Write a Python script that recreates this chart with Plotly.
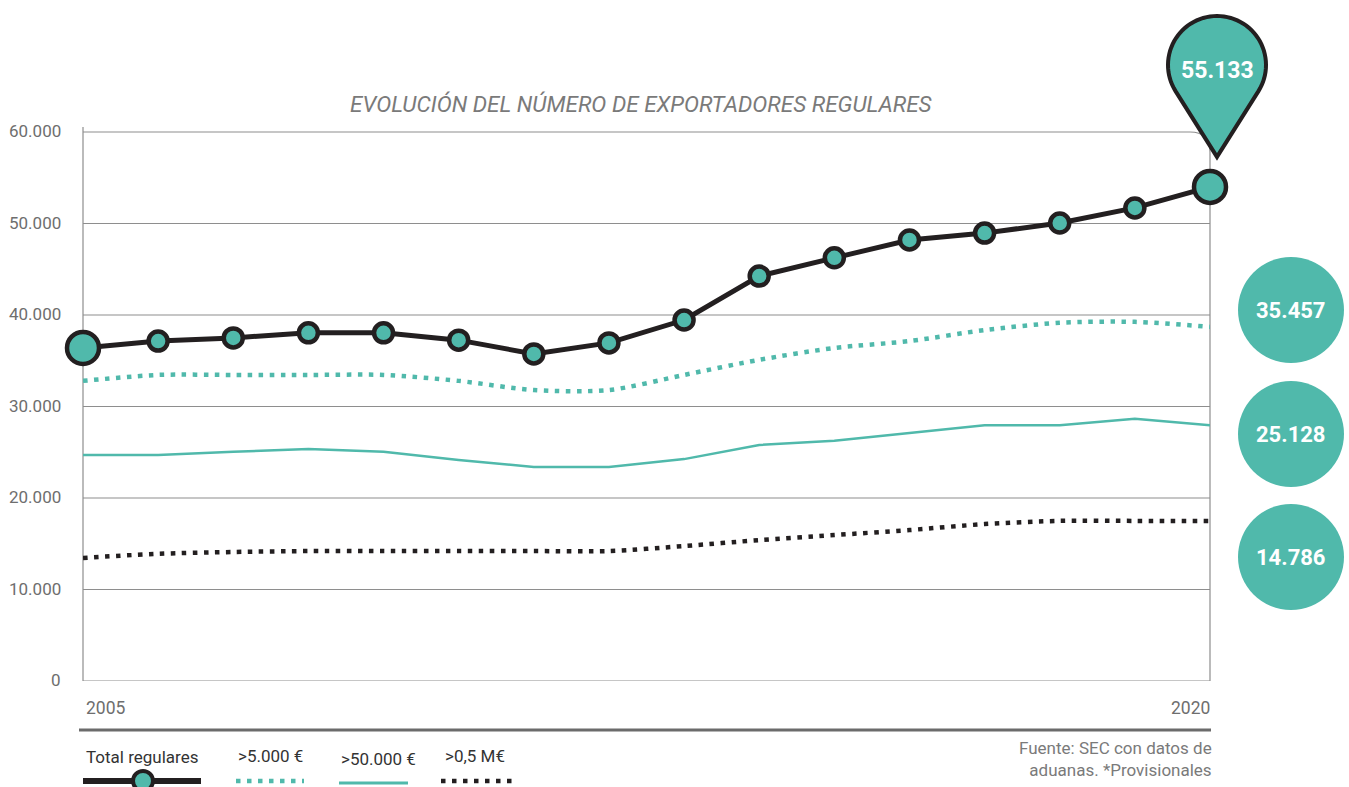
import math
import plotly.graph_objects as go

# ---------------- data ----------------
years = list(range(2005, 2021))
total_regulares = [36400, 37150, 37500, 38050, 38050, 37250, 35750, 36950,
                   39450, 44250, 46250, 48200, 48950, 50050, 51700, 54000]
mas_5000 = [32800, 33450, 33450, 33450, 33450, 32800, 31800, 31800,
            33450, 35100, 36400, 37150, 38350, 39150, 39250, 38700]
mas_50000 = [24700, 24700, 25050, 25350, 25050, 24150, 23400, 23400,
             24250, 25800, 26250, 27100, 27950, 27950, 28650, 27950]
mas_05M = [13450, 13900, 14100, 14200, 14200, 14200, 14200, 14200,
           14750, 15400, 15950, 16500, 17150, 17500, 17500, 17500]

y_ticks = [0, 10000, 20000, 30000, 40000, 50000, 60000]
y_tick_labels = ["0", "10.000", "20.000", "30.000", "40.000", "50.000", "60.000"]
x_tick_labels = ["2005", "2020"]
legend_labels = ["Total regulares", ">5.000 €", ">50.000 €", ">0,5 M€"]
pin_label = "55.133"
circle_labels = ["35.457", "25.128", "14.786"]
title_text = "EVOLUCIÓN DEL NÚMERO DE EXPORTADORES REGULARES"
source_text = "Fuente: SEC con datos de<br>aduanas. *Provisionales"

# ---------------- styling ----------------
W, H = 1349, 787
TEAL = "#50B9AB"
DARK = "#231F20"
GRID = "#8E8E8E"
FONT = "Roboto, 'Open Sans', sans-serif"
BIGFONT = "Roboto, 'DejaVu Sans Condensed', sans-serif"
DOTS = "4.5px,6.5px"

PL, PR, PT, PB = 83, 1210, 132, 681  # plot area in pixels


def X(px):
    return px / W


def Y(py):
    return 1 - py / H


def ypx(v):
    return PB - (v - y_ticks[0]) / (y_ticks[-1] - y_ticks[0]) * (PB - PT)


fig = go.Figure()

fig.add_trace(go.Scatter(x=years, y=mas_05M, mode="lines",
                         line=dict(color=DARK, width=4.5, dash=DOTS, shape="spline", smoothing=0.8),
                         hoverinfo="skip", cliponaxis=False))
fig.add_trace(go.Scatter(x=years, y=mas_50000, mode="lines",
                         line=dict(color=TEAL, width=2.5),
                         hoverinfo="skip", cliponaxis=False))
fig.add_trace(go.Scatter(x=years, y=mas_5000, mode="lines",
                         line=dict(color=TEAL, width=4.5, dash=DOTS, shape="spline", smoothing=0.8),
                         hoverinfo="skip", cliponaxis=False))
sizes = [32] + [19] * (len(years) - 2) + [32]
fig.add_trace(go.Scatter(x=years, y=total_regulares, mode="lines+markers",
                         line=dict(color=DARK, width=5),
                         marker=dict(size=sizes, color=TEAL, opacity=1, line=dict(color=DARK, width=4.5)),
                         hoverinfo="skip", cliponaxis=False))

shapes = []
annotations = []

# grid lines
for v in y_ticks[:-1]:
    shapes.append(dict(type="line", xref="x", yref="y", x0=years[0], x1=years[-1], y0=v, y1=v,
                       line=dict(color=GRID, width=1.2), layer="below"))
# frame: top line with rounded corner + right line
frame = (f"M {X(PL)},{Y(PT)} L {X(PR-20)},{Y(PT)} Q {X(PR)},{Y(PT)} {X(PR)},{Y(PT+20)} "
         f"L {X(PR)},{Y(PB)}")
shapes.append(dict(type="path", xref="paper", yref="paper", path=frame,
                   line=dict(color=GRID, width=1.2), layer="below"))
shapes.append(dict(type="line", xref="paper", yref="paper", x0=X(PL), x1=X(PL), y0=Y(127), y1=Y(PB),
                   line=dict(color=GRID, width=1.2), layer="below"))
# thick baseline below x labels
shapes.append(dict(type="line", xref="paper", yref="paper", x0=X(79), x1=X(1211), y0=Y(730), y1=Y(730),
                   line=dict(color="#6B6B6B", width=3)))

# y tick labels
for v, t in zip(y_ticks, y_tick_labels):
    annotations.append(dict(xref="paper", yref="paper", x=X(63), y=Y(ypx(v) - 1), text=t,
                            showarrow=False, xanchor="right", yanchor="middle",
                            font=dict(family=FONT, size=17, color="#6E6E6E")))
# x tick labels
annotations.append(dict(xref="paper", yref="paper", x=X(84), y=Y(708), text=x_tick_labels[0],
                        showarrow=False, xanchor="left", yanchor="middle",
                        font=dict(family=FONT, size=17.5, color="#6E6E6E")))
annotations.append(dict(xref="paper", yref="paper", x=X(1212), y=Y(708), text=x_tick_labels[1],
                        showarrow=False, xanchor="right", yanchor="middle",
                        font=dict(family=FONT, size=17.5, color="#6E6E6E")))

# title
annotations.append(dict(xref="paper", yref="paper", x=X(641), y=Y(104), text=title_text,
                        showarrow=False, xanchor="center", yanchor="middle",
                        font=dict(family=FONT, size=22.5, color="#7A7A7A", style="italic")))

# source
annotations.append(dict(xref="paper", yref="paper", x=X(1214), y=Y(759), text=source_text,
                        showarrow=False, xanchor="right", yanchor="middle", align="right",
                        font=dict(family=FONT, size=17, color="#7A7A7A")))

# pin above last point
tip_x = 1217
tip_y = ypx(total_regulares[-1]) - 30
cx, cy, r = tip_x, 65, 49
d = tip_y - cy
phi = math.acos(r / d)
pts = []
n = 60
for i in range(n + 1):
    th = phi + (2 * math.pi - 2 * phi) * i / n
    pts.append((cx + r * math.sin(th), cy + r * math.cos(th)))
path = f"M {X(tip_x)},{Y(tip_y)} " + " ".join(f"L {X(px)},{Y(py)}" for px, py in pts) + " Z"
shapes.append(dict(type="path", xref="paper", yref="paper", path=path,
                   fillcolor=TEAL, line=dict(color=DARK, width=4), layer="above"))
annotations.append(dict(xref="paper", yref="paper", x=X(cx), y=Y(cy + 6), text=f"<b>{pin_label}</b>",
                        showarrow=False, xanchor="center", yanchor="middle",
                        font=dict(family=BIGFONT, size=23, color="white")))

# circles at right
for cyp, lab in zip([310, 434, 557], circle_labels):
    shapes.append(dict(type="circle", xref="paper", yref="paper",
                       x0=X(1291 - 53), x1=X(1291 + 53), y0=Y(cyp + 53), y1=Y(cyp - 53),
                       fillcolor=TEAL, line=dict(width=0)))
    annotations.append(dict(xref="paper", yref="paper", x=X(1291), y=Y(cyp), text=f"<b>{lab}</b>",
                            showarrow=False, xanchor="center", yanchor="middle",
                            font=dict(family=BIGFONT, size=22, color="white")))

# legend
leg_font = dict(family=FONT, size=17, color="#333333")
leg_text_x = [84, 236, 339, 443]
leg_text_y = [757, 756, 759, 756]
for lx, ly, lab in zip(leg_text_x, leg_text_y, legend_labels):
    annotations.append(dict(xref="paper", yref="paper", x=X(lx), y=Y(ly), text=lab,
                            showarrow=False, xanchor="left", yanchor="middle", font=leg_font))
shapes.append(dict(type="line", xref="paper", yref="paper", x0=X(83), x1=X(201), y0=Y(781), y1=Y(781),
                   line=dict(color=DARK, width=6)))
shapes.append(dict(type="circle", xref="paper", yref="paper", x0=X(143 - 10), x1=X(143 + 10),
                   y0=Y(781 + 10), y1=Y(781 - 10), fillcolor=TEAL, line=dict(color=DARK, width=4)))
shapes.append(dict(type="line", xref="paper", yref="paper", x0=X(236), x1=X(304), y0=Y(781), y1=Y(781),
                   line=dict(color=TEAL, width=4.5, dash=DOTS)))
shapes.append(dict(type="line", xref="paper", yref="paper", x0=X(339), x1=X(408), y0=Y(783), y1=Y(783),
                   line=dict(color=TEAL, width=3)))
shapes.append(dict(type="line", xref="paper", yref="paper", x0=X(441), x1=X(514), y0=Y(781), y1=Y(781),
                   line=dict(color=DARK, width=4.5, dash=DOTS)))

fig.update_layout(
    width=W, height=H, autosize=False,
    margin=dict(l=0, r=0, t=0, b=0),
    paper_bgcolor="white", plot_bgcolor="rgba(0,0,0,0)",
    showlegend=False,
    xaxis=dict(domain=[X(PL), X(PR)], range=[years[0], years[-1]], visible=False, fixedrange=True),
    yaxis=dict(domain=[Y(PB), Y(PT)], range=[y_ticks[0], y_ticks[-1]], visible=False, fixedrange=True),
    shapes=shapes,
    annotations=annotations,
)

fig.write_html("out.html", config={"displayModeBar": False},
               post_script="document.body.style.margin='0';")
